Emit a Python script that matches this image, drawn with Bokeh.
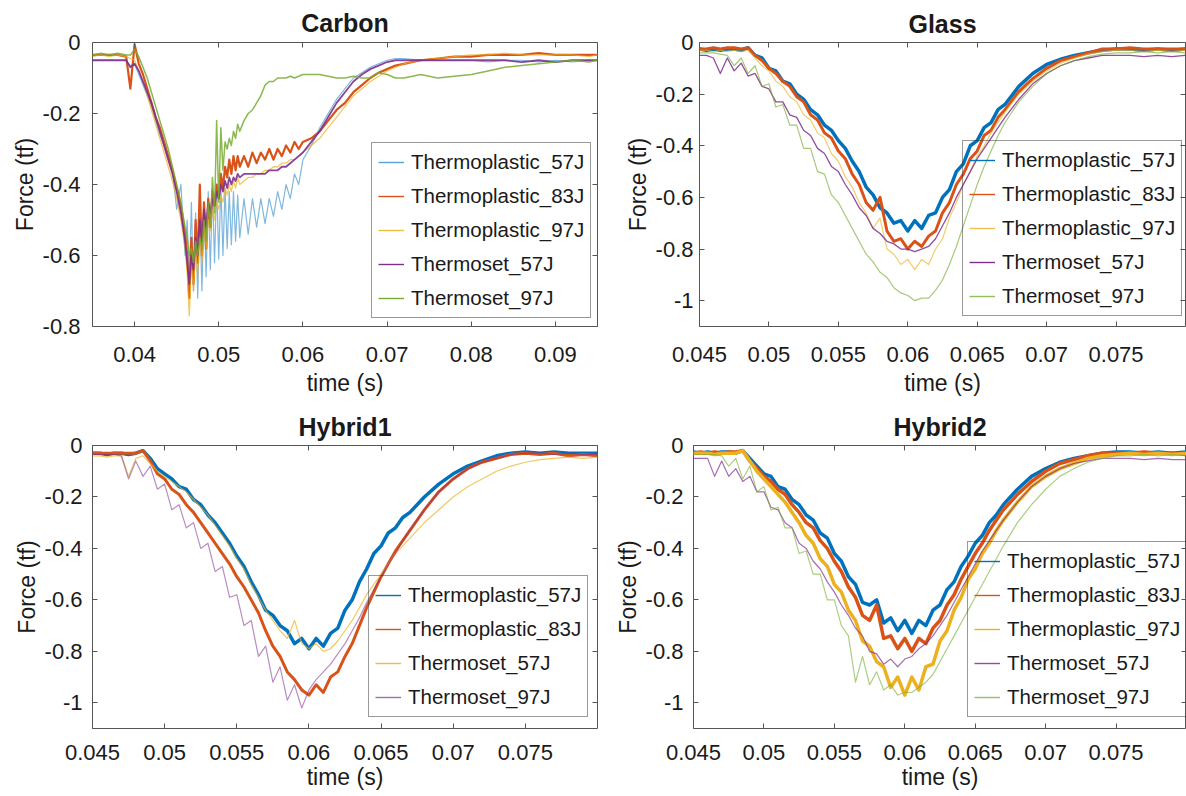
from bokeh.plotting import figure
from bokeh.models import Range1d, LinearAxis, FixedTicker, Legend, LegendItem
from bokeh.layouts import row, column
from bokeh.embed import file_html
from bokeh.resources import INLINE

# ---------------- data ----------------
NAMES_5 = ["Thermoplastic_57J", "Thermoplastic_83J", "Thermoplastic_97J", "Thermoset_57J", "Thermoset_97J"]
NAMES_H1 = ["Thermoplastic_57J", "Thermoplastic_83J", "Thermoset_57J", "Thermoset_97J"]

X_TICKS_CARBON = [0.04, 0.05, 0.06, 0.07, 0.08, 0.09]
X_LABELS_CARBON = ["0.04", "0.05", "0.06", "0.07", "0.08", "0.09"]
X_TICKS_FINE = [0.045, 0.05, 0.055, 0.06, 0.065, 0.07, 0.075]
X_LABELS_FINE = ["0.045", "0.05", "0.055", "0.06", "0.065", "0.07", "0.075"]
Y_TICKS_CARBON = [-0.8, -0.6, -0.4, -0.2, 0.0]
Y_LABELS_CARBON = ["-0.8", "-0.6", "-0.4", "-0.2", "0"]
Y_TICKS_FINE = [-1.0, -0.8, -0.6, -0.4, -0.2, 0.0]
Y_LABELS_FINE = ["-1", "-0.8", "-0.6", "-0.4", "-0.2", "0"]

# Carbon time (s)
T_CARBON = [0.035, 0.036, 0.037, 0.038, 0.039, 0.0395,
            0.040, 0.0405, 0.041, 0.0415, 0.042, 0.0425, 0.043, 0.0435, 0.044, 0.0445, 0.045, 0.0455, 0.046,
            0.04625, 0.0465, 0.04675, 0.047, 0.04725, 0.0475, 0.04775, 0.048, 0.04825, 0.0485, 0.04875, 0.049, 0.04925,
            0.0495, 0.04975, 0.050, 0.05025, 0.0505, 0.05075, 0.051, 0.05125, 0.0515, 0.05175, 0.052, 0.05225, 0.0525,
            0.053, 0.0535, 0.054, 0.0545, 0.055, 0.0555, 0.056, 0.0565, 0.057, 0.0575, 0.058, 0.0585, 0.059, 0.0595, 0.060,
            0.061, 0.062, 0.063, 0.064, 0.065, 0.066, 0.067, 0.068, 0.069, 0.070, 0.071, 0.072,
            0.074, 0.076, 0.078, 0.080, 0.082, 0.084, 0.086, 0.088, 0.090, 0.092, 0.094, 0.095]

C_TP57 = [-0.05, -0.05, -0.05, -0.05, -0.05, -0.065,
          -0.06, -0.09, -0.12, -0.15, -0.18, -0.22, -0.26, -0.29, -0.33, -0.36, -0.47, -0.40, -0.60,
          -0.50, -0.68, -0.45, -0.70, -0.48, -0.72, -0.47, -0.70, -0.45, -0.66, -0.42, -0.64, -0.41,
          -0.62, -0.40, -0.61, -0.40, -0.60, -0.41, -0.58, -0.42, -0.57, -0.42, -0.56, -0.43, -0.55,
          -0.44, -0.54, -0.44, -0.52, -0.44, -0.51, -0.44, -0.49, -0.42, -0.47, -0.40, -0.44, -0.37, -0.40, -0.33,
          -0.29, -0.24, -0.20, -0.16, -0.13, -0.10, -0.085, -0.07, -0.06, -0.05, -0.045, -0.045,
          -0.05, -0.05, -0.05, -0.05, -0.055, -0.05, -0.05, -0.055, -0.05, -0.055, -0.05, -0.05]
C_TP83 = [-0.035, -0.035, -0.035, -0.035, -0.04, -0.13,
          -0.005, -0.06, -0.09, -0.13, -0.17, -0.21, -0.24, -0.28, -0.32, -0.36, -0.41, -0.46, -0.54,
          -0.60, -0.72, -0.55, -0.68, -0.50, -0.62, -0.40, -0.60, -0.45, -0.58, -0.44, -0.52, -0.42,
          -0.46, -0.40, -0.44, -0.37, -0.41, -0.35, -0.38, -0.33, -0.37, -0.32, -0.36, -0.32, -0.35,
          -0.32, -0.35, -0.31, -0.34, -0.31, -0.33, -0.30, -0.33, -0.30, -0.32, -0.29, -0.31, -0.28, -0.30, -0.28,
          -0.27, -0.25, -0.22, -0.19, -0.17, -0.14, -0.12, -0.10, -0.085, -0.075, -0.065, -0.06,
          -0.05, -0.045, -0.04, -0.04, -0.035, -0.035, -0.035, -0.03, -0.035, -0.035, -0.035, -0.035]
C_TP97 = [-0.04, -0.035, -0.04, -0.035, -0.04, -0.045,
          -0.05, -0.08, -0.11, -0.15, -0.19, -0.23, -0.27, -0.31, -0.35, -0.39, -0.44, -0.50, -0.58,
          -0.65, -0.77, -0.62, -0.70, -0.58, -0.66, -0.55, -0.62, -0.52, -0.58, -0.50, -0.53, -0.47,
          -0.50, -0.45, -0.47, -0.43, -0.45, -0.41, -0.43, -0.40, -0.42, -0.39, -0.41, -0.38, -0.40,
          -0.39, -0.38, -0.38, -0.37, -0.37, -0.36, -0.36, -0.35, -0.35, -0.34, -0.34, -0.33, -0.33, -0.32, -0.31,
          -0.29, -0.27, -0.24, -0.21, -0.18, -0.15, -0.13, -0.11, -0.095, -0.08, -0.07, -0.06,
          -0.05, -0.045, -0.04, -0.035, -0.035, -0.03, -0.035, -0.035, -0.035, -0.035, -0.04, -0.035]
C_TS57 = [-0.05, -0.05, -0.05, -0.05, -0.05, -0.07,
          -0.06, -0.08, -0.11, -0.14, -0.17, -0.21, -0.25, -0.29, -0.33, -0.37, -0.42, -0.48, -0.56,
          -0.62, -0.68, -0.60, -0.64, -0.55, -0.60, -0.50, -0.56, -0.47, -0.52, -0.45, -0.48, -0.44,
          -0.46, -0.42, -0.44, -0.40, -0.42, -0.39, -0.41, -0.38, -0.40, -0.38, -0.39, -0.37, -0.38,
          -0.37, -0.37, -0.37, -0.37, -0.37, -0.37, -0.36, -0.36, -0.36, -0.35, -0.35, -0.34, -0.33, -0.32, -0.31,
          -0.28, -0.25, -0.21, -0.17, -0.14, -0.11, -0.09, -0.075, -0.065, -0.055, -0.05, -0.05,
          -0.05, -0.05, -0.05, -0.05, -0.05, -0.05, -0.055, -0.05, -0.055, -0.05, -0.05, -0.05]
C_TS97 = [-0.035, -0.03, -0.035, -0.03, -0.035, -0.035,
          -0.02, -0.04, -0.07, -0.10, -0.14, -0.18, -0.22, -0.26, -0.30, -0.35, -0.40, -0.45, -0.52,
          -0.55, -0.60, -0.58, -0.62, -0.56, -0.60, -0.55, -0.58, -0.50, -0.56, -0.45, -0.52, -0.38,
          -0.48, -0.22, -0.45, -0.24, -0.36, -0.28, -0.30, -0.27, -0.29, -0.25, -0.27, -0.23, -0.25,
          -0.22, -0.20, -0.19, -0.17, -0.15, -0.12, -0.11, -0.11, -0.10, -0.10, -0.10, -0.095, -0.10, -0.095, -0.09,
          -0.09, -0.09, -0.095, -0.10, -0.10, -0.095, -0.10, -0.10, -0.085, -0.09, -0.10, -0.10,
          -0.09, -0.10, -0.095, -0.09, -0.08, -0.07, -0.065, -0.06, -0.055, -0.05, -0.055, -0.05]

# Glass / Hybrid time (s)
T_FINE = [0.045, 0.0455, 0.046, 0.0465, 0.047, 0.0475, 0.048, 0.0485, 0.049,
          0.0495, 0.050, 0.0505, 0.051, 0.0515, 0.052, 0.0525, 0.053, 0.0535, 0.054,
          0.0545, 0.055, 0.0555, 0.056, 0.0565, 0.057, 0.0575, 0.058, 0.0585, 0.059,
          0.0595, 0.060, 0.0605, 0.061, 0.0615, 0.062, 0.0625, 0.063, 0.0635, 0.064,
          0.0645, 0.065, 0.0655, 0.066, 0.0665, 0.067,
          0.068, 0.069, 0.070, 0.071, 0.072, 0.073, 0.074, 0.075, 0.076, 0.077, 0.078, 0.079, 0.080]

G_TP57 = [-0.025, -0.03, -0.025, -0.03, -0.025, -0.025, -0.03, -0.02, -0.05,
          -0.06, -0.10, -0.11, -0.15, -0.16, -0.20, -0.22, -0.26, -0.28, -0.32,
          -0.34, -0.38, -0.41, -0.46, -0.50, -0.56, -0.59, -0.64, -0.66, -0.70,
          -0.69, -0.73, -0.69, -0.72, -0.67, -0.66, -0.60, -0.57, -0.50, -0.47,
          -0.40, -0.38, -0.33, -0.31, -0.26, -0.24,
          -0.17, -0.12, -0.085, -0.065, -0.05, -0.04, -0.03, -0.025, -0.025, -0.03, -0.025, -0.03, -0.025]
G_TP83 = [-0.025, -0.025, -0.02, -0.025, -0.02, -0.02, -0.025, -0.02, -0.05,
          -0.07, -0.10, -0.12, -0.15, -0.17, -0.21, -0.23, -0.28, -0.30, -0.35,
          -0.37, -0.42, -0.45, -0.51, -0.55, -0.62, -0.65, -0.60, -0.73, -0.77,
          -0.76, -0.80, -0.77, -0.79, -0.75, -0.73, -0.66, -0.62, -0.55, -0.51,
          -0.45, -0.42, -0.36, -0.34, -0.29, -0.26,
          -0.19, -0.14, -0.10, -0.07, -0.055, -0.04, -0.025, -0.025, -0.02, -0.025, -0.025, -0.025, -0.025]
G_TP97 = [-0.03, -0.03, -0.035, -0.03, -0.035, -0.03, -0.035, -0.03, -0.06,
          -0.09, -0.11, -0.15, -0.17, -0.21, -0.23, -0.28, -0.30, -0.35, -0.37,
          -0.43, -0.46, -0.52, -0.56, -0.62, -0.66, -0.72, -0.68, -0.80, -0.82,
          -0.86, -0.84, -0.88, -0.84, -0.86, -0.80, -0.76, -0.68, -0.62, -0.55,
          -0.50, -0.44, -0.40, -0.35, -0.31, -0.27,
          -0.20, -0.15, -0.11, -0.08, -0.06, -0.045, -0.035, -0.03, -0.03, -0.035, -0.03, -0.035, -0.03]
G_TS57 = [-0.05, -0.05, -0.06, -0.12, -0.06, -0.11, -0.08, -0.13, -0.12,
          -0.17, -0.18, -0.23, -0.23, -0.28, -0.29, -0.34, -0.36, -0.41, -0.43,
          -0.48, -0.50, -0.55, -0.59, -0.64, -0.67, -0.72, -0.74, -0.77, -0.78,
          -0.80, -0.80, -0.81, -0.80, -0.79, -0.76, -0.71, -0.66, -0.60, -0.55,
          -0.50, -0.45, -0.41, -0.37, -0.33, -0.29,
          -0.22, -0.16, -0.12, -0.09, -0.07, -0.06, -0.05, -0.05, -0.05, -0.055, -0.05, -0.055, -0.05]
G_TS97 = [-0.04, -0.04, -0.04, -0.045, -0.05, -0.09, -0.06, -0.12, -0.09,
          -0.17, -0.16, -0.25, -0.24, -0.32, -0.32, -0.41, -0.41, -0.50, -0.51,
          -0.59, -0.62, -0.67, -0.72, -0.77, -0.82, -0.85, -0.89, -0.91, -0.95,
          -0.97, -0.98, -1.00, -0.99, -0.99, -0.96, -0.92, -0.86, -0.79, -0.71,
          -0.63, -0.55, -0.48, -0.42, -0.36, -0.31,
          -0.23, -0.17, -0.12, -0.09, -0.07, -0.055, -0.045, -0.04, -0.04, -0.035, -0.04, -0.035, -0.04]

H1_TP57 = [-0.03, -0.03, -0.035, -0.03, -0.03, -0.035, -0.03, -0.02, -0.05,
           -0.09, -0.11, -0.13, -0.16, -0.17, -0.21, -0.23, -0.27, -0.30, -0.34,
           -0.38, -0.43, -0.47, -0.53, -0.58, -0.64, -0.66, -0.70, -0.72, -0.77,
           -0.75, -0.79, -0.75, -0.78, -0.73, -0.71, -0.64, -0.60, -0.53, -0.48,
           -0.42, -0.39, -0.34, -0.32, -0.28, -0.26,
           -0.20, -0.15, -0.11, -0.08, -0.06, -0.04, -0.03, -0.025, -0.03, -0.025, -0.03, -0.03, -0.03]
H1_TP83 = [-0.03, -0.03, -0.03, -0.03, -0.03, -0.03, -0.03, -0.02, -0.06,
           -0.11, -0.13, -0.17, -0.19, -0.23, -0.26, -0.30, -0.34, -0.38, -0.42,
           -0.46, -0.51, -0.55, -0.60, -0.65, -0.72, -0.78, -0.82, -0.88, -0.91,
           -0.95, -0.97, -0.93, -0.96, -0.90, -0.88, -0.82, -0.77, -0.70, -0.63,
           -0.57, -0.51, -0.46, -0.41, -0.37, -0.33,
           -0.25, -0.18, -0.13, -0.09, -0.065, -0.05, -0.035, -0.03, -0.035, -0.03, -0.04, -0.035, -0.04]
H1_TS57 = [-0.04, -0.04, -0.045, -0.04, -0.04, -0.12, -0.05, -0.04, -0.07,
           -0.10, -0.12, -0.14, -0.16, -0.18, -0.21, -0.24, -0.27, -0.31, -0.35,
           -0.39, -0.44, -0.48, -0.54, -0.59, -0.64, -0.68, -0.72, -0.75, -0.68,
           -0.77, -0.79, -0.77, -0.80, -0.79, -0.76, -0.72, -0.68, -0.63, -0.58,
           -0.54, -0.50, -0.46, -0.42, -0.39, -0.36,
           -0.30, -0.25, -0.20, -0.16, -0.13, -0.10, -0.08, -0.065, -0.055, -0.05, -0.045, -0.05, -0.045]
H1_TS97 = [-0.035, -0.035, -0.035, -0.035, -0.04, -0.13, -0.06, -0.12, -0.08,
           -0.17, -0.15, -0.25, -0.23, -0.32, -0.30, -0.40, -0.38, -0.49, -0.47,
           -0.59, -0.58, -0.70, -0.68, -0.82, -0.78, -0.92, -0.86, -0.99, -0.93,
           -1.02, -0.95, -0.91, -0.88, -0.85, -0.81, -0.77, -0.72, -0.67, -0.61,
           -0.56, -0.51, -0.46, -0.42, -0.37, -0.33,
           -0.25, -0.18, -0.13, -0.09, -0.065, -0.05, -0.035, -0.03, -0.03, -0.035, -0.03, -0.035, -0.035]

H2_TP57 = [-0.025, -0.03, -0.025, -0.03, -0.025, -0.025, -0.03, -0.02, -0.05,
           -0.08, -0.11, -0.12, -0.16, -0.17, -0.21, -0.23, -0.27, -0.29, -0.34,
           -0.36, -0.42, -0.45, -0.51, -0.54, -0.61, -0.62, -0.60, -0.69, -0.67,
           -0.72, -0.68, -0.73, -0.68, -0.70, -0.64, -0.62, -0.56, -0.53, -0.47,
           -0.43, -0.38, -0.35, -0.30, -0.27, -0.23,
           -0.17, -0.12, -0.09, -0.065, -0.05, -0.04, -0.03, -0.025, -0.025, -0.03, -0.025, -0.03, -0.025]
H2_TP83 = [-0.03, -0.025, -0.03, -0.025, -0.03, -0.025, -0.025, -0.02, -0.06,
           -0.09, -0.12, -0.14, -0.17, -0.19, -0.23, -0.26, -0.30, -0.32, -0.37,
           -0.40, -0.45, -0.49, -0.55, -0.59, -0.66, -0.68, -0.62, -0.75, -0.74,
           -0.79, -0.75, -0.80, -0.75, -0.77, -0.71, -0.68, -0.62, -0.58, -0.52,
           -0.47, -0.42, -0.38, -0.33, -0.29, -0.25,
           -0.19, -0.14, -0.10, -0.07, -0.055, -0.04, -0.03, -0.03, -0.03, -0.025, -0.03, -0.03, -0.035]
H2_TP97 = [-0.03, -0.03, -0.03, -0.035, -0.03, -0.03, -0.03, -0.02, -0.06,
           -0.10, -0.13, -0.16, -0.19, -0.22, -0.26, -0.30, -0.35, -0.38, -0.44,
           -0.47, -0.54, -0.57, -0.64, -0.68, -0.76, -0.78, -0.84, -0.86, -0.94,
           -0.90, -0.97, -0.90, -0.95, -0.86, -0.85, -0.76, -0.72, -0.64, -0.59,
           -0.52, -0.48, -0.42, -0.38, -0.33, -0.29,
           -0.22, -0.16, -0.12, -0.09, -0.07, -0.05, -0.04, -0.035, -0.03, -0.035, -0.03, -0.035, -0.03]
H2_TS57 = [-0.05, -0.05, -0.05, -0.12, -0.06, -0.12, -0.09, -0.14, -0.12,
           -0.18, -0.18, -0.24, -0.25, -0.30, -0.32, -0.38, -0.40, -0.45, -0.48,
           -0.53, -0.57, -0.62, -0.66, -0.71, -0.74, -0.80, -0.81, -0.85, -0.83,
           -0.86, -0.83, -0.82, -0.79, -0.77, -0.74, -0.70, -0.66, -0.61, -0.56,
           -0.51, -0.46, -0.41, -0.37, -0.33, -0.29,
           -0.22, -0.16, -0.12, -0.09, -0.07, -0.06, -0.05, -0.05, -0.05, -0.055, -0.05, -0.055, -0.055]
H2_TS97 = [-0.035, -0.035, -0.035, -0.035, -0.04, -0.08, -0.05, -0.13, -0.08,
           -0.18, -0.16, -0.25, -0.24, -0.32, -0.32, -0.42, -0.41, -0.50, -0.50,
           -0.60, -0.60, -0.70, -0.74, -0.92, -0.82, -0.93, -0.88, -0.95, -0.93,
           -0.97, -0.96, -0.96, -0.94, -0.92, -0.89, -0.84, -0.79, -0.74, -0.69,
           -0.64, -0.59, -0.54, -0.49, -0.44, -0.39,
           -0.30, -0.23, -0.17, -0.12, -0.09, -0.065, -0.05, -0.04, -0.04, -0.035, -0.04, -0.035, -0.04]

# ---------------- styling ----------------
FONT = "Liberation Sans"
TXT = "#1a1a1a"
FRAME = "#555555"
BLUE, ORANGE, YELLOW, PURPLE, GREEN = "#0072BD", "#D95319", "#EDB120", "#7E2F8E", "#77AC30"
NAN = float("nan")


def make_panel(title, t, series, names, styles, width, height, borders,
               x_range, y_range, xt, xl, yt, yl, legend_xy, y_standoff, x_standoff,
               xlab_standoff, title_standoff):
    bl, br, bt, bb = borders
    p = figure(width=width, height=height, x_range=Range1d(*x_range), y_range=Range1d(*y_range),
               output_backend="svg", toolbar_location=None, title=title,
               min_border_left=bl, min_border_right=br, min_border_top=bt, min_border_bottom=bb,
               x_axis_label="time (s)", y_axis_label="Force (tf)")
    p.title.align = "center"
    p.title.text_font = FONT
    p.title.text_font_size = "25px"
    p.title.text_font_style = "bold"
    p.title.text_color = TXT
    p.title.standoff = title_standoff
    p.grid.visible = False
    p.outline_line_color = FRAME
    p.outline_line_width = 1
    p.background_fill_color = "white"
    p.border_fill_color = "white"

    for ax, ticks, labels, standoff in ((p.xaxis[0], xt, xl, x_standoff), (p.yaxis[0], yt, yl, y_standoff)):
        ax.ticker = FixedTicker(ticks=ticks)
        ax.major_label_overrides = {float(k): v for k, v in zip(ticks, labels)}
        ax.axis_line_color = None
        ax.major_tick_in = 5
        ax.major_tick_out = 0
        ax.minor_tick_in = 0
        ax.minor_tick_out = 0
        ax.major_tick_line_color = FRAME
        ax.major_label_standoff = standoff
        ax.major_label_text_font = FONT
        ax.major_label_text_font_size = "22px"
        ax.major_label_text_color = TXT
        ax.axis_label_text_font = FONT
        ax.axis_label_text_font_size = "23px"
        ax.axis_label_text_font_style = "normal"
        ax.axis_label_text_color = TXT
    p.xaxis[0].axis_label_standoff = xlab_standoff
    p.yaxis[0].axis_label_standoff = 2

    # inward tick marks on the top and right edges of the box (no labels)
    for loc, ticks in (("above", xt), ("right", yt)):
        ax = LinearAxis(ticker=FixedTicker(ticks=ticks), major_label_text_font_size="1px",
                        major_label_text_color=None, major_label_standoff=0,
                        major_tick_in=5, major_tick_out=0, minor_tick_in=0, minor_tick_out=0,
                        axis_line_color=None, major_tick_line_color=FRAME)
        p.add_layout(ax, loc)

    for vals, (color, lw, alpha) in zip(series, styles):
        p.line(t, vals, line_color=color, line_width=lw, line_alpha=alpha, line_join="round")

    items = []
    for name, (color, lw, alpha) in zip(names, styles):
        r = p.line([NAN], [NAN], line_color=color, line_width=1.4, line_alpha=min(1.0, alpha + 0.15))
        items.append(LegendItem(label=name, renderers=[r]))
    leg = Legend(items=items, location=legend_xy, label_text_font=FONT, label_text_font_size="20.5px",
                 label_text_color=TXT, label_height=26, glyph_height=26, glyph_width=26,
                 label_standoff=7, padding=6, spacing=8, margin=0,
                 border_line_color="#333333", border_line_width=1, background_fill_alpha=0)
    p.add_layout(leg)
    return p


carbon = make_panel(
    "Carbon", T_CARBON, [C_TP57, C_TP83, C_TP97, C_TS57, C_TS97], NAMES_5,
    [(BLUE, 1.2, 0.5), (ORANGE, 2.2, 1.0), (YELLOW, 1.3, 0.7), (PURPLE, 1.8, 0.9), (GREEN, 1.5, 0.85)],
    600, 404, (92, 3, 42, 77), (0.035, 0.095), (-0.8, 0.0),
    X_TICKS_CARBON, X_LABELS_CARBON, Y_TICKS_CARBON, Y_LABELS_CARBON, (279, 8), 12, 20, 5, 11)

glass = make_panel(
    "Glass", T_FINE, [G_TP57, G_TP83, G_TP97, G_TS57, G_TS97], NAMES_5,
    [(BLUE, 3.5, 1.0), (ORANGE, 3.0, 1.0), (YELLOW, 1.2, 0.65), (PURPLE, 1.3, 0.85), (GREEN, 1.2, 0.65)],
    586, 404, (99, 1, 41, 78), (0.045, 0.08), (-1.1, 0.0),
    X_TICKS_FINE, X_LABELS_FINE, Y_TICKS_FINE, Y_LABELS_FINE, (263, 10), 6, 20, 5, 10)

hybrid1 = make_panel(
    "Hybrid1", T_FINE, [H1_TP57, H1_TP83, H1_TS57, H1_TS97], NAMES_H1,
    [(BLUE, 3.5, 1.0), (ORANGE, 3.0, 1.0), (YELLOW, 1.2, 0.7), (PURPLE, 1.2, 0.55)],
    600, 392, (92, 3, 41, 66), (0.045, 0.08), (-1.1, 0.0),
    X_TICKS_FINE, X_LABELS_FINE, Y_TICKS_FINE, Y_LABELS_FINE, (276, 11), 10, 16, 1, 10)

hybrid2 = make_panel(
    "Hybrid2", T_FINE, [H2_TP57, H2_TP83, H2_TP97, H2_TS57, H2_TS97], NAMES_5,
    [(BLUE, 3.5, 1.0), (ORANGE, 3.5, 1.0), (YELLOW, 3.5, 1.0), (PURPLE, 1.2, 0.7), (GREEN, 1.2, 0.6)],
    586, 392, (93, 0, 40, 68), (0.045, 0.08), (-1.1, 0.0),
    X_TICKS_FINE, X_LABELS_FINE, Y_TICKS_FINE, Y_LABELS_FINE, (274, 11), 10, 16, 1, 9)

layout = column(row(carbon, glass), row(hybrid1, hybrid2))
open("out.html", "w").write(file_html(layout, INLINE))
